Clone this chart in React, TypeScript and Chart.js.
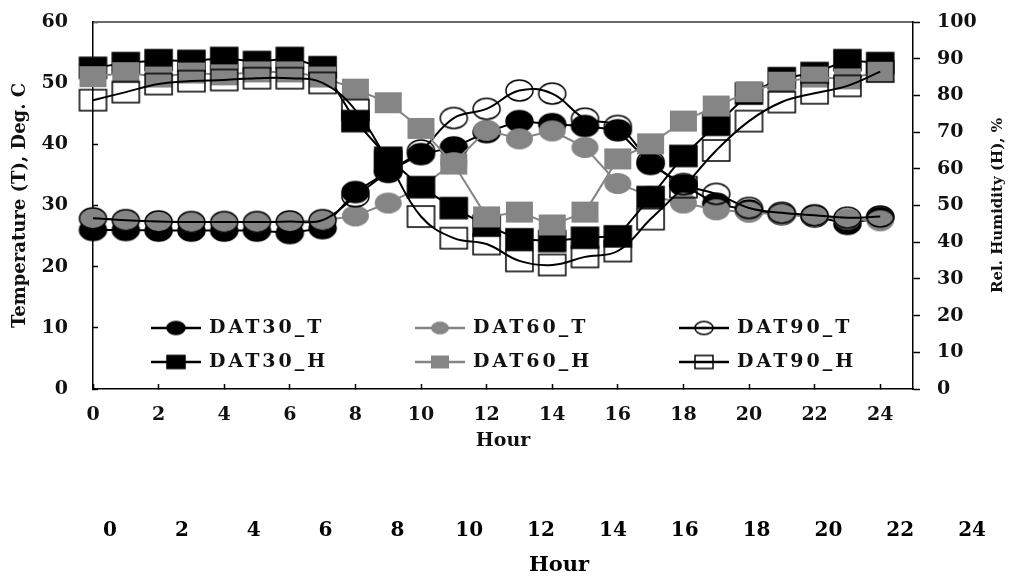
import React, { useEffect, useRef } from 'react';
import { Chart, registerables } from 'chart.js';

Chart.register(...registerables);

// ---------------- data ----------------
const hours = [0, 1, 2, 3, 4, 5, 6, 7, 8, 9, 10, 11, 12, 13, 14, 15, 16, 17, 18, 19, 20, 21, 22, 23, 24];

const dat30T = [26.0, 26.0, 25.9, 25.9, 25.9, 25.9, 25.5, 26.3, 32.2, 35.6, 38.4, 39.5, 42.0, 43.8, 43.3, 43.0, 42.3, 36.8, 33.3, 30.3, 29.2, 28.6, 28.2, 27.0, 28.0];
const dat60T = [27.9, 27.6, 27.4, 27.3, 27.3, 27.3, 27.4, 27.6, 28.3, 30.4, 33.0, 37.0, 42.3, 40.9, 42.2, 39.5, 33.6, 31.5, 30.4, 29.3, 28.9, 28.5, 28.2, 27.8, 27.5];
const dat90T = [27.9, 27.6, 27.4, 27.3, 27.3, 27.3, 27.4, 27.6, 31.5, 35.5, 39.0, 44.3, 45.8, 48.8, 48.3, 44.2, 43.0, 37.2, 33.5, 31.9, 29.6, 28.8, 28.4, 28.0, 28.2];
const dat30H = [87.5, 88.8, 89.6, 89.4, 90.2, 89.1, 90.2, 87.7, 73.0, 63.0, 55.0, 49.3, 44.5, 40.8, 40.3, 41.2, 41.6, 52.3, 63.5, 72.0, 80.5, 84.7, 86.1, 89.6, 88.8];
const dat60H = [85.1, 86.2, 85.0, 86.1, 85.6, 86.4, 86.4, 85.0, 81.7, 78.0, 71.0, 61.3, 46.9, 48.2, 44.7, 48.2, 62.7, 66.8, 73.0, 77.1, 81.0, 83.6, 85.0, 84.5, 86.5];
const dat90H = [78.7, 80.9, 83.1, 83.9, 84.2, 84.7, 84.7, 83.4, 76.0, 62.0, 47.0, 41.1, 39.5, 34.9, 33.8, 36.0, 37.6, 46.3, 55.0, 65.0, 73.0, 78.2, 80.6, 82.6, 86.5];

const seriesNames = ['DAT30_T', 'DAT60_T', 'DAT90_T', 'DAT30_H', 'DAT60_H', 'DAT90_H'];

const tempRange = { min: 0, max: 60, step: 10 };
const humRange = { min: 0, max: 100, step: 10 };
const hourRange = { min: 0, max: 25, step: 2 };

const xTitle = 'Hour';
const yLeftTitle = 'Temperature (T), Deg. C';
const yRightTitle = 'Rel. Humidity (H), %';

// legend grid: [label, row, col]
const legendSlots: [string, number, number][] = [
  ['DAT30_T', 0, 0], ['DAT60_T', 0, 1], ['DAT90_T', 0, 2],
  ['DAT30_H', 1, 0], ['DAT60_H', 1, 1], ['DAT90_H', 1, 2],
];

const FONT = '"DejaVu Serif", serif';
const BLACK = '#000000';
const GRAY = '#858585';

function makeMarker(shape: string, fill: string | null, stroke: string | null, w: number, h: number, lw = 1.5) {
  const c = document.createElement('canvas');
  c.width = w + 4;
  c.height = h + 4;
  const ctx = c.getContext('2d')!;
  ctx.beginPath();
  if (shape === 'circle') ctx.ellipse(c.width / 2, c.height / 2, w / 2, h / 2, 0, 0, Math.PI * 2);
  else ctx.rect((c.width - w) / 2, (c.height - h) / 2, w, h);
  if (fill) { ctx.fillStyle = fill; ctx.fill(); }
  if (stroke) { ctx.strokeStyle = stroke; ctx.lineWidth = lw; ctx.stroke(); }
  return c;
}

const noEdgePadding = (s: any) => {
  s.paddingTop = 0;
  s.paddingBottom = 0;
  s.paddingLeft = 0;
  s.paddingRight = 0;
};

export default function App() {
  const topRef = useRef<HTMLCanvasElement>(null);
  const botRef = useRef<HTMLCanvasElement>(null);

  useEffect(() => {
    const valuesByName: Record<string, number[]> = {
      DAT30_T: dat30T, DAT60_T: dat60T, DAT90_T: dat90T,
      DAT30_H: dat30H, DAT60_H: dat60H, DAT90_H: dat90H,
    };
    const style: Record<string, any> = {
      DAT30_T: { shape: 'circle', fill: BLACK, stroke: BLACK, line: BLACK, tension: 0, axis: 'y' },
      DAT60_T: { shape: 'circle', fill: GRAY, stroke: null, line: GRAY, tension: 0, axis: 'y' },
      DAT90_T: { shape: 'circle', fill: null, stroke: BLACK, line: BLACK, tension: 0.4, axis: 'y' },
      DAT30_H: { shape: 'square', fill: BLACK, stroke: BLACK, line: BLACK, tension: 0, axis: 'yH' },
      DAT60_H: { shape: 'square', fill: GRAY, stroke: null, line: GRAY, tension: 0, axis: 'yH' },
      DAT90_H: { shape: 'square', fill: null, stroke: BLACK, line: BLACK, tension: 0.4, axis: 'yH' },
    };
    const legendImg: Record<string, HTMLCanvasElement> = {};
    const lineColor: Record<string, string> = {};

    const datasets: any[] = seriesNames.map((name) => {
      const s = style[name];
      const img = makeMarker(s.shape, s.fill, s.stroke, 27, 21, 1.5);
      legendImg[name] = makeMarker(s.shape, s.fill, s.stroke, 18, 13, 1.5);
      lineColor[name] = s.line;
      return {
        label: name,
        data: hours.map((h, i) => ({ x: h, y: valuesByName[name][i] })),
        xAxisID: 'x',
        yAxisID: s.axis,
        borderColor: s.line,
        backgroundColor: s.fill || 'rgba(0,0,0,0)',
        borderWidth: 2,
        tension: s.tension,
        pointStyle: img,
        pointRadius: 12,
        clip: false,
      };
    });
    // first dataset is drawn on top in Chart.js -> reverse so DAT90_H ends up on top
    datasets.reverse();

    const legendPlugin = {
      id: 'gridLegend',
      afterDraw(chart: any) {
        const { ctx, chartArea } = chart;
        const colX = [58, 322, 586];
        const rowY = [306, 340];
        ctx.save();
        ctx.font = `bold 19px ${FONT}`;
        ctx.textBaseline = 'middle';
        ctx.textAlign = 'left';
        (ctx as any).letterSpacing = '3px';
        legendSlots.forEach(([label, row, col]) => {
          const x0 = chartArea.left + colX[col];
          const y = chartArea.top + rowY[row];
          ctx.strokeStyle = lineColor[label];
          ctx.lineWidth = 2.5;
          ctx.beginPath();
          ctx.moveTo(x0, y);
          ctx.lineTo(x0 + 50, y);
          ctx.stroke();
          const img = legendImg[label];
          ctx.drawImage(img, x0 + 25 - img.width / 2, y - img.height / 2);
          ctx.fillStyle = '#111';
          ctx.fillText(label, x0 + 58, y);
        });
        ctx.restore();
      },
    };

    const rightTitlePlugin = {
      id: 'rightTitle',
      afterDraw(chart: any) {
        const { ctx, chartArea } = chart;
        ctx.save();
        ctx.translate(chart.width - 16, (chartArea.top + chartArea.bottom) / 2);
        ctx.rotate(-Math.PI / 2);
        ctx.font = `bold 15px ${FONT}`;
        ctx.fillStyle = '#111';
        ctx.textAlign = 'center';
        ctx.textBaseline = 'middle';
        ctx.fillText(yRightTitle, 0, 0);
        ctx.restore();
      },
    };

    const tickFont = { family: FONT, size: 19, weight: 'bold' as const };

    const top = new Chart(topRef.current!, {
      type: 'line',
      data: { datasets },
      options: {
        responsive: false,
        animation: false,
        events: [],
        layout: { padding: { top: 22, left: 0, right: 0, bottom: 0 } },
        plugins: { legend: { display: false }, tooltip: { enabled: false } },
        scales: {
          x: {
            type: 'linear', position: 'bottom', min: hourRange.min, max: hourRange.max,
            ticks: { stepSize: hourRange.step, includeBounds: false, autoSkip: false, maxRotation: 0, font: tickFont, color: '#111', padding: 20 },
            grid: { display: true, drawOnChartArea: false, drawTicks: true, tickLength: -5, tickColor: BLACK, tickWidth: 1.5 },
            border: { display: true, color: BLACK, width: 1.5 },
            title: { display: true, text: xTitle, font: { family: FONT, size: 19, weight: 'bold' }, color: '#111', padding: { top: 0, bottom: 8 } },
            afterFit: (s: any) => { s.height = 71; noEdgePadding(s); },
          },
          xTop: {
            type: 'linear', position: 'top', min: hourRange.min, max: hourRange.max,
            ticks: { display: false },
            grid: { display: false },
            border: { display: true, color: '#6a6a6a', width: 2 },
            afterFit: (s: any) => { s.height = 0; noEdgePadding(s); },
          },
          y: {
            type: 'linear', position: 'left', min: tempRange.min, max: tempRange.max,
            ticks: { stepSize: tempRange.step, font: tickFont, color: '#111', padding: 30 },
            grid: { display: true, drawOnChartArea: false, drawTicks: true, tickLength: -5, tickColor: BLACK, tickWidth: 1.5 },
            border: { display: true, color: BLACK, width: 1.5 },
            title: { display: true, text: yLeftTitle, font: { family: FONT, size: 18, weight: 'bold' }, color: '#111', padding: { top: 10, bottom: 0 } },
            afterFit: (s: any) => { s.width = 93; noEdgePadding(s); },
          },
          yH: {
            type: 'linear', position: 'right', min: humRange.min, max: humRange.max,
            ticks: { stepSize: humRange.step, font: tickFont, color: '#111', padding: 17 },
            grid: { display: true, drawOnChartArea: false, drawTicks: true, tickLength: 7, tickColor: BLACK, tickWidth: 1.5 },
            border: { display: true, color: BLACK, width: 1.5 },
            afterFit: (s: any) => { s.width = 101; noEdgePadding(s); },
          },
        },
      } as any,
      plugins: [legendPlugin, rightTitlePlugin],
    });

    const bot = new Chart(botRef.current!, {
      type: 'line',
      data: { datasets: [] },
      options: {
        responsive: false,
        animation: false,
        events: [],
        layout: { padding: { left: 110, right: 6, top: 0, bottom: 0 } },
        plugins: { legend: { display: false }, tooltip: { enabled: false } },
        scales: {
          x: {
            type: 'linear', position: 'bottom', min: hourRange.min, max: hourRange.max,
            ticks: { stepSize: hourRange.step, includeBounds: false, autoSkip: false, maxRotation: 0, font: { family: FONT, size: 20, weight: 'bold' }, color: BLACK, padding: 11 },
            grid: { display: false },
            border: { display: false },
            title: { display: true, text: xTitle, font: { family: FONT, size: 21, weight: 'bold' }, color: BLACK, padding: { top: 0, bottom: 0 } },
            afterFit: (s: any) => { s.height = 78; noEdgePadding(s); },
          },
          y: { display: false, min: 0, max: 1 },
        },
      } as any,
    });

    return () => {
      top.destroy();
      bot.destroy();
    };
  }, []);

  return (
    <div style={{ position: 'absolute', left: 0, top: 0, width: 1014, height: 578, background: '#fff' }}>
      <canvas ref={topRef} width={1014} height={460} style={{ display: 'block', position: 'absolute', left: 0, top: 0 }} />
      <canvas ref={botRef} width={1014} height={118} style={{ display: 'block', position: 'absolute', left: 0, top: 460 }} />
    </div>
  );
}
